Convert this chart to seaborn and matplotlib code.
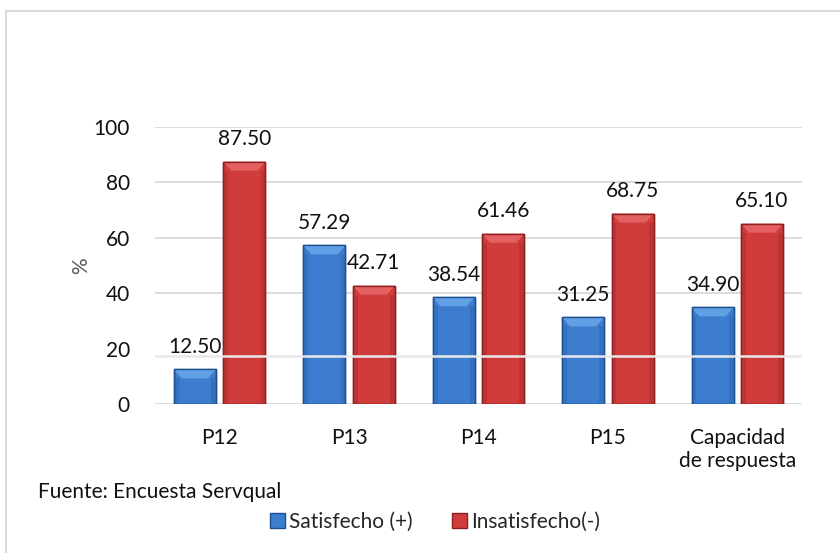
import matplotlib
matplotlib.use("Agg")
import matplotlib.pyplot as plt
import seaborn as sns
import pandas as pd
from matplotlib.patches import Rectangle, Patch, Polygon

categories = ["P12", "P13", "P14", "P15", "Capacidad\nde respuesta"]
satisfecho = [12.50, 57.29, 38.54, 31.25, 34.90]
insatisfecho = [87.50, 42.71, 61.46, 68.75, 65.10]
series = ["Satisfecho (+)", "Insatisfecho(-)"]
yticks = [0, 20, 40, 60, 80, 100]

df = pd.DataFrame({
    "cat": categories * 2,
    "serie": [series[0]] * len(categories) + [series[1]] * len(categories),
    "valor": satisfecho + insatisfecho,
})

sns.set_theme(style="white")
plt.rcParams["font.family"] = ["Lato", "DejaVu Sans"]
FS = 15

face = {series[0]: "#3d7dd0", series[1]: "#d03c3c"}
light = {series[0]: "#62a0e6", series[1]: "#e56060"}
side = {series[0]: "#3470bd", series[1]: "#bb3333"}
edge = {series[0]: "#1f4f8f", series[1]: "#8a2020"}

fig = plt.figure(figsize=(8.4, 5.53), dpi=100)
ax = fig.add_axes([155 / 840, 1 - 404 / 553, (802 - 155) / 840, (404 - 127) / 553])

sns.barplot(data=df, x="cat", y="valor", hue="serie", order=categories,
            hue_order=series, palette=face, saturation=1, width=0.765, gap=0.15,
            legend=False, ax=ax, zorder=3)

ax.set_ylim(0, 100)
ax.set_xlim(-0.5, len(categories) - 0.5)

# bevel shading on each bar (size in pixels converted to data units)
px_x = (len(categories)) / 647.0
px_y = 100 / 277.0
bx, by = 8 * px_x, 9 * px_y
for container, s in zip(ax.containers, series):
    for bar in container:
        bar.set_edgecolor(edge[s])
        bar.set_linewidth(1.0)
        x0, w, h = bar.get_x(), bar.get_width(), bar.get_height()
        top = Polygon([(x0, h), (x0 + w, h), (x0 + w - bx, h - by), (x0 + bx, h - by)],
                      closed=True, facecolor=light[s], edgecolor="none", zorder=4)
        ax.add_patch(top)
        for xa, xb in [(x0, x0 + bx * 0.6), (x0 + w - bx * 0.6, x0 + w)]:
            ax.add_patch(Rectangle((xa, 0), xb - xa, h - by, facecolor=side[s],
                                   edgecolor="none", zorder=4))
        ax.add_patch(Rectangle((x0, 0), w, h, facecolor="none", edgecolor=edge[s],
                               linewidth=1.0, zorder=4.5))
    ax.bar_label(container, labels=[f"{v:.2f}" for v in container.datavalues],
                 padding=9, fontsize=FS, color="#111111")

ax.set_yticks(yticks)
ax.yaxis.grid(True, color="#d9d9d9", linewidth=1.3, zorder=0)
ax.set_axisbelow(True)
fig.canvas.draw()
for t, gl in zip(ax.get_yticks(), ax.yaxis.get_gridlines()):
    if t == 20:
        gl.set_visible(False)
ax.axhline(17.5, color="#e8e8e8", linewidth=1.8, zorder=6)
for sp in ax.spines.values():
    sp.set_visible(False)
ax.tick_params(axis="y", length=0, labelsize=FS, colors="#111111", pad=18)
ax.tick_params(axis="x", length=0, labelsize=FS, colors="#111111", pad=17)
ax.set_xlabel("")
ax.set_ylabel("%", fontsize=FS, color="#595959", labelpad=2)

fig.text(38 / 840, 1 - 492 / 553, "Fuente: Encuesta Servqual", fontsize=FS,
         color="#111111", va="center", ha="left")

handles = [Patch(facecolor=face[s], edgecolor=edge[s], label=s) for s in series]
fig.legend(handles=handles, loc="center", bbox_to_anchor=(435 / 840, 1 - 522 / 553),
           ncol=2, frameon=False, fontsize=FS, handlelength=0.7, handleheight=0.7,
           handletextpad=0.2, columnspacing=1.9)

# chart area frame (light gray)
fig.patches.append(Rectangle((6 / 840, -0.05), 1.2, 1 - 11 / 553 + 0.05,
                             transform=fig.transFigure, fill=False,
                             edgecolor="#d9d9d9", linewidth=1.5))

fig.savefig("out.png", dpi=100)
